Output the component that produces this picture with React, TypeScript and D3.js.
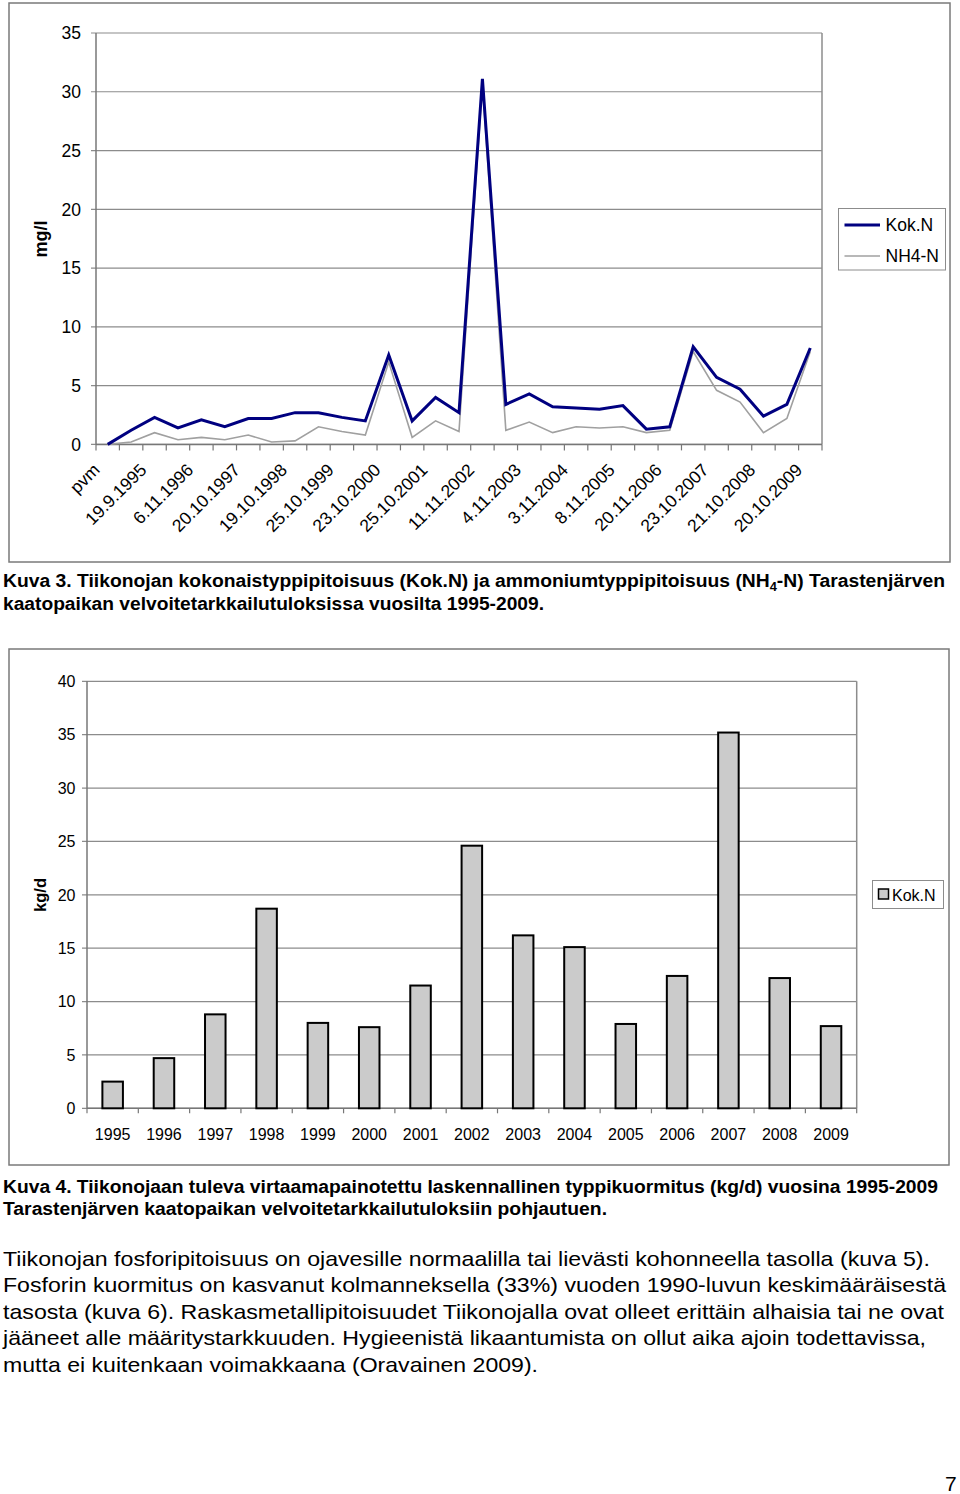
import React from 'react';
import * as d3 from 'd3';

// ---------- Chart 1 data (mg/l) ----------
const lineTickLabels = ['pvm', '19.9.1995', '6.11.1996', '20.10.1997', '19.10.1998', '25.10.1999', '23.10.2000', '25.10.2001', '11.11.2002', '4.11.2003', '3.11.2004', '8.11.2005', '20.11.2006', '23.10.2007', '21.10.2008', '20.10.2009'];
const kokN = [0, 1.2, 2.3, 1.4, 2.1, 1.5, 2.2, 2.2, 2.7, 2.7, 2.3, 2.0, 7.6, 2.0, 4.0, 2.7, 31.1, 3.4, 4.3, 3.2, 3.1, 3.0, 3.3, 1.3, 1.5, 8.3, 5.7, 4.7, 2.4, 3.4, 8.2];
const nh4N = [0, 0.2, 1.0, 0.4, 0.6, 0.4, 0.8, 0.2, 0.3, 1.5, 1.1, 0.8, 7.0, 0.6, 2.0, 1.1, 30.7, 1.2, 1.9, 1.0, 1.5, 1.4, 1.5, 1.0, 1.2, 7.9, 4.6, 3.6, 1.0, 2.2, 7.9];
const lineYTicks = [0, 5, 10, 15, 20, 25, 30, 35];
const lineLegend = ['Kok.N', 'NH4-N'];

// ---------- Chart 2 data (kg/d) ----------
const years = ['1995', '1996', '1997', '1998', '1999', '2000', '2001', '2002', '2003', '2004', '2005', '2006', '2007', '2008', '2009'];
const kgPerDay = [2.5, 4.7, 8.8, 18.7, 8.0, 7.6, 11.5, 24.6, 16.2, 15.1, 7.9, 12.4, 35.2, 12.2, 7.7];
const barYTicks = [0, 5, 10, 15, 20, 25, 30, 35, 40];

// ---------- Texts ----------
const caption4 = [
  'Kuva 4. Tiikonojaan tuleva virtaamapainotettu laskennallinen typpikuormitus (kg/d) vuosina 1995-2009',
  'Tarastenjärven kaatopaikan velvoitetarkkailutuloksiin pohjautuen.',
];
const paragraph = [
  'Tiikonojan fosforipitoisuus on ojavesille normaalilla tai lievästi kohonneella tasolla (kuva 5).',
  'Fosforin kuormitus on kasvanut kolmanneksella (33%) vuoden 1990-luvun keskimääräisestä',
  'tasosta (kuva 6). Raskasmetallipitoisuudet Tiikonojalla ovat olleet erittäin alhaisia tai ne ovat',
  'jääneet alle määritystarkkuuden. Hygieenistä likaantumista on ollut aika ajoin todettavissa,',
  'mutta ei kuitenkaan voimakkaana (Oravainen 2009).',
];
const paragraphWidths = [927, 943, 941, 923, 535];

const FONT = '"Liberation Sans", Arial, Helvetica, sans-serif';
const GRID = '#8c8c8c';

function LineChart() {
  const L = 96, R = 822, T = 33, B = 444.4;
  const x = d3.scaleBand<number>().domain(d3.range(kokN.length)).range([L, R]).padding(0);
  const y = d3.scaleLinear().domain([0, 35]).range([B, T]);
  const cx = (i: number) => (x(i) as number) + x.bandwidth() / 2;
  const line = d3.line<number>().x((_, i) => cx(i)).y((d) => y(d));
  const tickXs = d3.range(kokN.length + 1).map((i) => L + i * x.step());
  return (
    <g fontFamily={FONT}>
      <rect x={9} y={3} width={941} height={559} fill="#fff" stroke="#7a7a7a" strokeWidth={1.5} />
      {lineYTicks.map((t) => (
        <g key={t}>
          <line x1={L - 5} x2={R} y1={y(t)} y2={y(t)} stroke={GRID} strokeWidth={1.2} />
          <text x={81} y={y(t)} dy="0.36em" textAnchor="end" fontSize={17.5}>{t}</text>
        </g>
      ))}
      <line x1={R} x2={R} y1={T} y2={B} stroke={GRID} strokeWidth={1.5} />
      <line x1={L} x2={L} y1={T} y2={B} stroke="#777" strokeWidth={1.5} />
      <line x1={L} x2={R} y1={B} y2={B} stroke="#777" strokeWidth={1.5} />
      {tickXs.map((tx, i) => (
        <line key={i} x1={tx} x2={tx} y1={B} y2={B + 6} stroke="#777" strokeWidth={1.2} />
      ))}
      <path d={line(nh4N) || ''} fill="none" stroke="#a0a0a0" strokeWidth={1.6} strokeLinejoin="miter" />
      <path d={line(kokN) || ''} fill="none" stroke="#000080" strokeWidth={3} strokeLinejoin="miter" />
      {lineTickLabels.map((lab, k) => (
        <text key={lab} transform={`translate(${cx(k * 2) - 7},${471}) rotate(-45)`} textAnchor="end" fontSize={17.5}>{lab}</text>
      ))}
      <text transform={`translate(47,239) rotate(-90)`} textAnchor="middle" fontSize={18} fontWeight="bold">mg/l</text>
      <rect x={838.5} y={208.5} width={107} height={61.5} fill="#fff" stroke={GRID} strokeWidth={1} />
      <line x1={844.5} x2={880} y1={225} y2={225} stroke="#000080" strokeWidth={3} />
      <text x={885.5} y={231} fontSize={17.5}>{lineLegend[0]}</text>
      <line x1={844.5} x2={880} y1={256} y2={256} stroke="#a0a0a0" strokeWidth={1.6} />
      <text x={885.5} y={262} fontSize={17.5}>{lineLegend[1]}</text>
    </g>
  );
}

function BarChart() {
  const L = 87, R = 856.7, T = 681.3, B = 1108.3;
  const x = d3.scaleBand<string>().domain(years).range([L, R]).paddingInner(0.6).paddingOuter(0.3);
  const y = d3.scaleLinear().domain([0, 40]).range([B, T]);
  const step = (R - L) / years.length;
  const tickXs = d3.range(years.length + 1).map((i) => L + i * step);
  return (
    <g fontFamily={FONT}>
      <rect x={9} y={649} width={940} height={516} fill="#fff" stroke="#7a7a7a" strokeWidth={1.5} />
      {barYTicks.map((t) => (
        <g key={t}>
          <line x1={L - 5} x2={R} y1={y(t)} y2={y(t)} stroke={GRID} strokeWidth={1.2} />
          <text x={75.5} y={y(t)} dy="0.36em" textAnchor="end" fontSize={16}>{t}</text>
        </g>
      ))}
      <line x1={R} x2={R} y1={T} y2={B} stroke={GRID} strokeWidth={1.5} />
      <line x1={L} x2={L} y1={T} y2={B} stroke="#777" strokeWidth={1.5} />
      <line x1={L} x2={R} y1={B} y2={B} stroke="#777" strokeWidth={1.5} />
      {tickXs.map((tx, i) => (
        <line key={i} x1={tx} x2={tx} y1={B} y2={B + 5} stroke="#777" strokeWidth={1.2} />
      ))}
      {years.map((yr, i) => (
        <rect key={yr} x={x(yr) as number} y={y(kgPerDay[i])} width={x.bandwidth()} height={B - y(kgPerDay[i])}
          fill="#cbcbcb" stroke="#000" strokeWidth={2} />
      ))}
      {years.map((yr) => (
        <text key={yr} x={(x(yr) as number) + x.bandwidth() / 2} y={1140} textAnchor="middle" fontSize={16}>{yr}</text>
      ))}
      <text transform={`translate(46,895) rotate(-90)`} textAnchor="middle" fontSize={16.5} fontWeight="bold">kg/d</text>
      <rect x={872.5} y={880.5} width={71} height={28} fill="#fff" stroke={GRID} strokeWidth={1} />
      <rect x={878.5} y={889} width={10} height={10} fill="#cbcbcb" stroke="#000" strokeWidth={1.5} />
      <text x={892} y={901} fontSize={16}>Kok.N</text>
    </g>
  );
}

export default function App() {
  return (
    <div style={{ position: 'absolute', left: 0, top: 0 }}>
      <svg width={960} height={1494} viewBox="0 0 960 1494" style={{ display: 'block', background: '#fff' }}>
        <rect x={0} y={0} width={960} height={1494} fill="#fff" />
        <LineChart />
        <g fontFamily={FONT} fontWeight="bold" fontSize={18}>
          <text x={3} y={587} textLength={942} lengthAdjust="spacingAndGlyphs">
            Kuva 3. Tiikonojan kokonaistyppipitoisuus (Kok.N) ja ammoniumtyppipitoisuus (NH
            <tspan fontSize={12} dy={4}>4</tspan>
            <tspan dy={-4}>-N) Tarastenjärven</tspan>
          </text>
          <text x={3} y={610} textLength={541} lengthAdjust="spacingAndGlyphs">
            kaatopaikan velvoitetarkkailutuloksissa vuosilta 1995-2009.
          </text>
        </g>
        <BarChart />
        <g fontFamily={FONT} fontWeight="bold" fontSize={18}>
          <text x={3} y={1193} textLength={935} lengthAdjust="spacingAndGlyphs">{caption4[0]}</text>
          <text x={3} y={1215} textLength={604} lengthAdjust="spacingAndGlyphs">{caption4[1]}</text>
        </g>
        <g fontFamily={FONT} fontSize={21}>
          {paragraph.map((ln, i) => (
            <text key={i} x={3} y={1265.5 + i * 26.6} textLength={paragraphWidths[i]} lengthAdjust="spacingAndGlyphs">{ln}</text>
          ))}
        </g>
        <text x={945} y={1491} fontFamily={FONT} fontSize={21}>7</text>
      </svg>
    </div>
  );
}
